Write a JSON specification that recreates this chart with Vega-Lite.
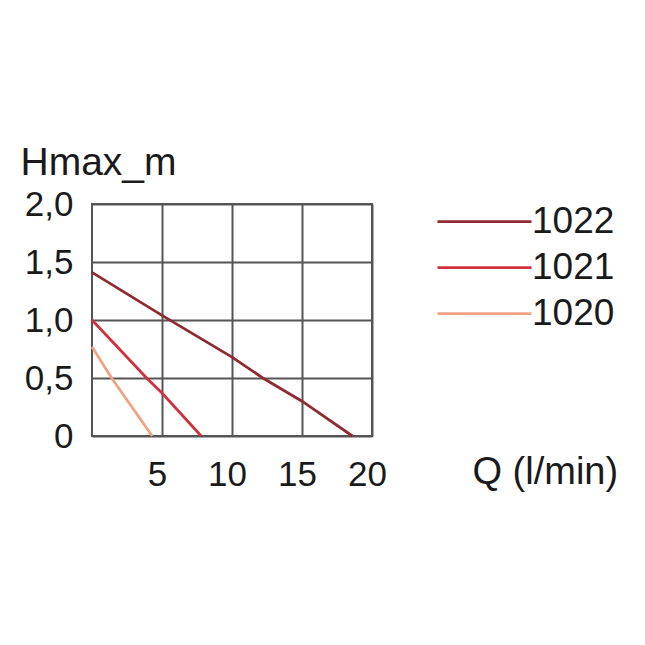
{
  "$schema": "https://vega.github.io/schema/vega-lite/v6.json",
  "autosize": "none",
  "width": 280,
  "height": 232,
  "padding": {"left": 92, "top": 204, "right": 273, "bottom": 209},
  "background": "white",
  "data": {
    "values": [
      {"q": 0, "h": 1.41, "model": "1022"},
      {"q": 5, "h": 1.04, "model": "1022"},
      {"q": 10, "h": 0.68, "model": "1022"},
      {"q": 12.2, "h": 0.5, "model": "1022"},
      {"q": 15, "h": 0.3, "model": "1022"},
      {"q": 18.6, "h": 0, "model": "1022"},
      {"q": 0, "h": 1.0, "model": "1021"},
      {"q": 3.9, "h": 0.5, "model": "1021"},
      {"q": 5, "h": 0.37, "model": "1021"},
      {"q": 7.8, "h": 0, "model": "1021"},
      {"q": 0, "h": 0.77, "model": "1020"},
      {"q": 1.4, "h": 0.5, "model": "1020"},
      {"q": 4.3, "h": 0, "model": "1020"}
    ]
  },
  "mark": {"type": "line", "strokeWidth": 2.75},
  "encoding": {
    "x": {
      "field": "q",
      "type": "quantitative",
      "scale": {"domain": [0, 20], "nice": false},
      "axis": {
        "values": [5, 10, 15, 20],
        "title": "Q (l/min)",
        "titleAngle": 0,
        "titleAlign": "left",
        "titleBaseline": "middle",
        "titleX": 380,
        "titleY": 36,
        "labelPadding": 21,
        "labelOffset": -5,
        "labelFlush": false,
        "ticks": false,
        "domain": false
      }
    },
    "y": {
      "field": "h",
      "type": "quantitative",
      "scale": {"domain": [0, 2], "nice": false},
      "axis": {
        "values": [0, 0.5, 1, 1.5, 2],
        "labelExpr": "datum.value == 0 ? '0' : replace(format(datum.value, '.1f'), '.', ',')",
        "title": "Hmax_m",
        "titleAngle": 0,
        "titleAlign": "left",
        "titleBaseline": "alphabetic",
        "titleX": -72,
        "titleY": -30,
        "titleFontSize": 39,
        "labelPadding": 19,
        "ticks": false,
        "domain": false
      }
    },
    "color": {
      "field": "model",
      "type": "nominal",
      "sort": ["1022", "1021", "1020"],
      "scale": {"domain": ["1022", "1021", "1020"], "range": ["#8e2a30", "#d0303c", "#f0a283"]},
      "legend": {
        "title": null,
        "orient": "none",
        "legendX": 332,
        "legendY": -1,
        "symbolType": "M-1,0H17.8",
        "symbolSize": 100,
        "symbolStrokeWidth": 2.75,
        "labelOffset": 71,
        "labelFontSize": 37,
        "labelColor": "#1a1a1a",
        "rowPadding": 8
      }
    }
  },
  "config": {
    "font": "Liberation Sans",
    "view": {"stroke": "#555555", "strokeWidth": 2},
    "axis": {
      "grid": true,
      "gridColor": "#555555",
      "gridWidth": 2,
      "gridOpacity": 1,
      "labelFontSize": 35,
      "labelColor": "#1a1a1a",
      "labelFont": "Liberation Sans",
      "titleFontSize": 38,
      "titleFontWeight": "normal",
      "titleColor": "#1a1a1a",
      "titleFont": "Liberation Sans"
    },
    "legend": {"labelFont": "Liberation Sans"}
  }
}
